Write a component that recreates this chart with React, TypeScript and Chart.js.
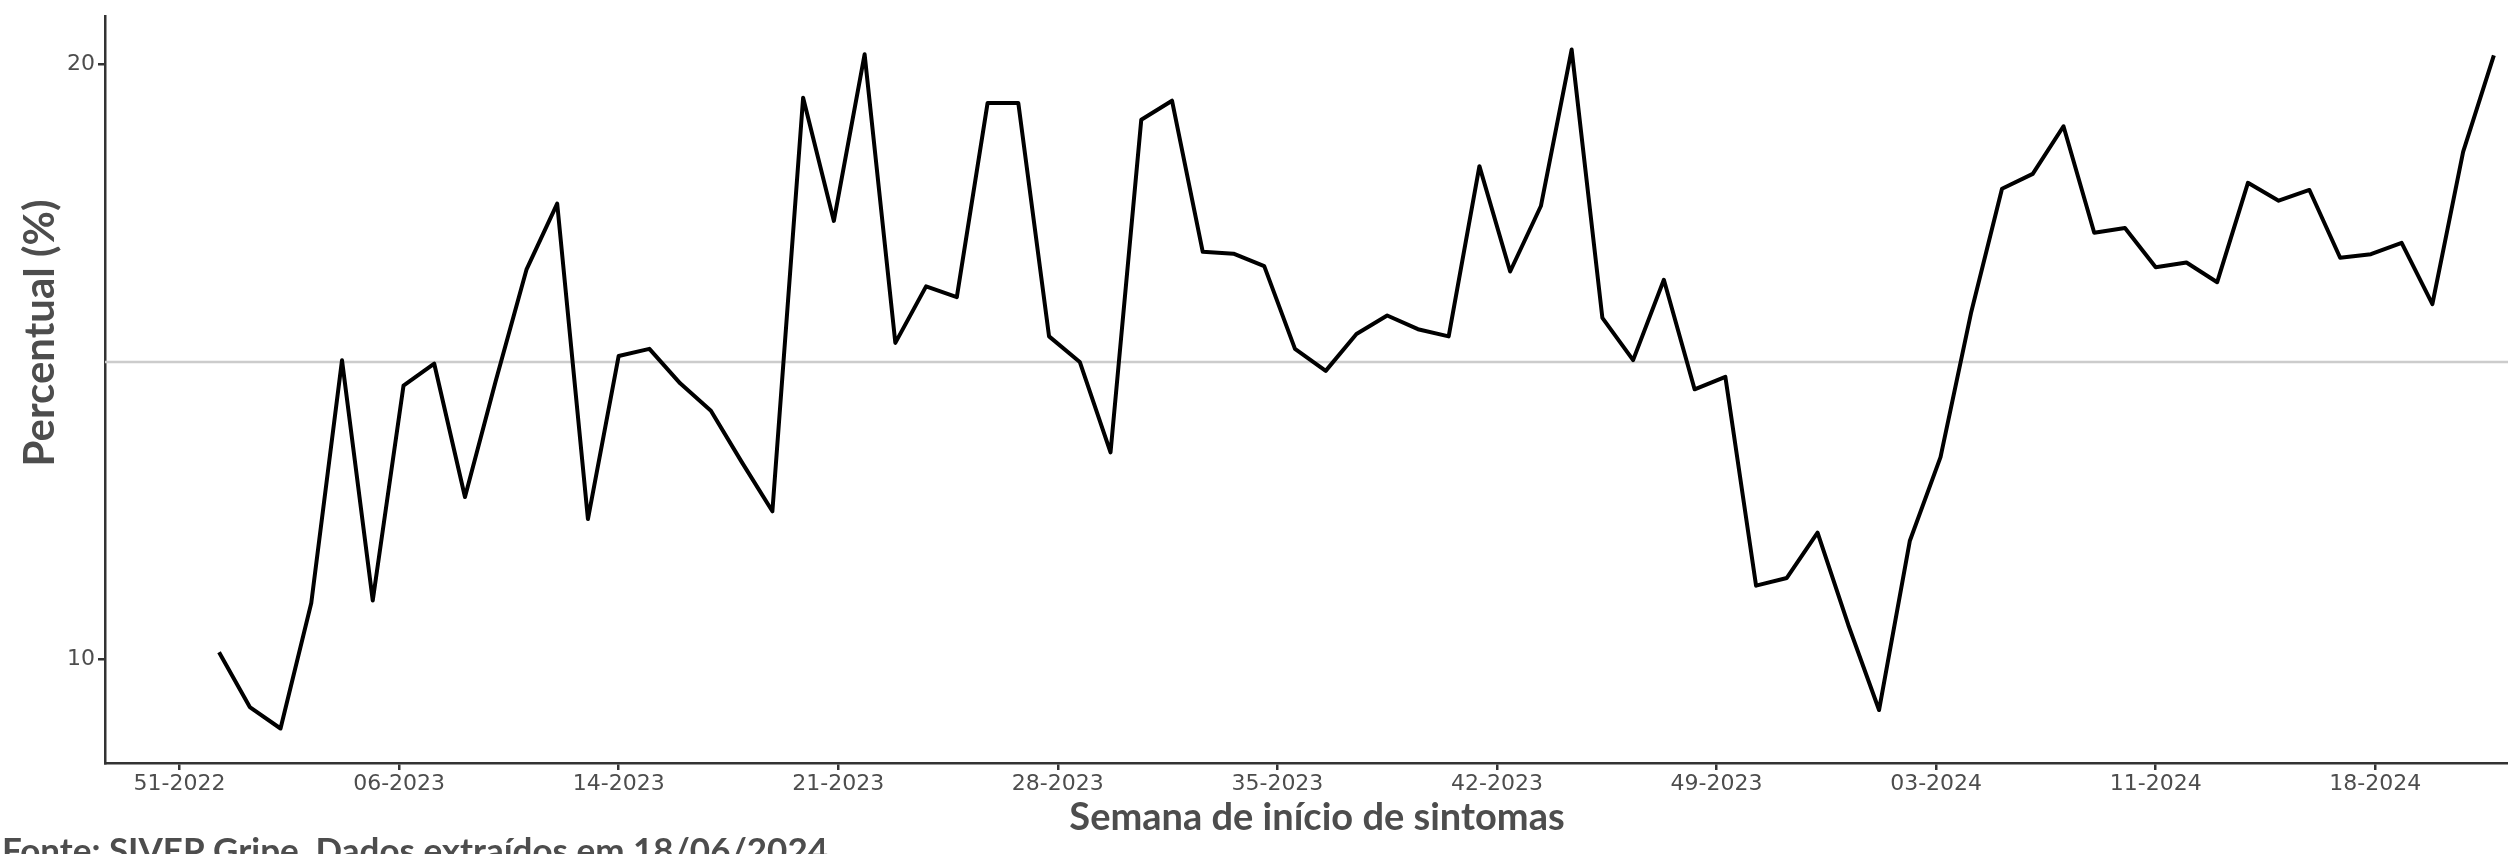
import { useEffect, useRef } from 'react'
import { Chart, registerables } from 'chart.js'

Chart.register(...registerables)

// % per epidemiological week, first point = week after 51-2022
const percentual = [
  10.12, 9.2, 8.84, 10.95, 15.03, 10.99, 14.6, 14.97, 12.73, 14.68,
  16.55, 17.66, 12.36, 15.1, 15.22, 14.64, 14.18, 13.32, 12.49, 19.44,
  17.37, 20.17, 15.32, 16.27, 16.09, 19.35, 19.35, 15.43, 15.0, 13.48,
  19.07, 19.39, 16.85, 16.82, 16.61, 15.22, 14.85, 15.47, 15.78, 15.55,
  15.43, 18.29, 16.52, 17.62, 20.25, 15.74, 15.03, 16.38, 14.54, 14.75,
  11.24, 11.37, 12.13, 10.58, 9.15, 11.99, 13.4, 15.84, 17.91, 18.16,
  18.96, 17.17, 17.25, 16.59, 16.67, 16.34, 18.01, 17.71, 17.89, 16.75,
  16.81, 17.0, 15.97, 18.53, 20.15,
]

// x tick labels and their offset in days from the first data point
const tickLabels = [
  '51-2022', '06-2023', '14-2023', '21-2023', '28-2023', '35-2023',
  '42-2023', '49-2023', '03-2024', '11-2024', '18-2024',
]
const tickDays = [-9, 41, 91, 141, 191, 241, 291, 341, 391, 441, 491]

const yTicks = [10, 20]
const referenceLevel = 15

const X_MIN = -3.71
const X_MAX = 74.46
const Y_MIN = 8.26
const Y_MAX = 20.81

const textColor = '#4d4d4d'
const axisColor = '#333333'

// axis titles and source note (the plot was cropped, so titles are off-centre)
const textPlugin = {
  id: 'textLayer',
  afterDraw(chart: Chart) {
    const { ctx } = chart
    ctx.save()
    ctx.fillStyle = textColor

    ctx.font = 'bold 38px Lato'
    ctx.textAlign = 'center'
    ctx.textBaseline = 'middle'
    ctx.fillText('Semana de início de sintomas', 1317, 818)

    ctx.save()
    ctx.translate(40, 333)
    ctx.rotate(-Math.PI / 2)
    ctx.font = 'bold 42px Lato'
    ctx.fillText('Percentual (%)', 0, 0)
    ctx.restore()

    ctx.font = 'bold 35px Lato'
    ctx.textAlign = 'left'
    ctx.textBaseline = 'alphabetic'
    ctx.fillText('Fonte: SIVEP Gripe. Dados extraídos em 18/06/2024', 2, 863)
    ctx.restore()
  },
}

export default function App() {
  const canvasRef = useRef<HTMLCanvasElement>(null)
  const chartRef = useRef<Chart | null>(null)

  useEffect(() => {
    document.body.style.margin = '0'
    if (!canvasRef.current) return
    chartRef.current?.destroy()

    const tickPos = tickDays.map((d) => d / 7)

    chartRef.current = new Chart(canvasRef.current, {
      type: 'line',
      data: {
        datasets: [
          {
            label: 'Percentual',
            data: percentual.map((v, i) => ({ x: i, y: v })),
            borderColor: '#000000',
            borderWidth: 4,
            pointRadius: 0,
            tension: 0,
            borderJoinStyle: 'round',
            borderCapStyle: 'butt',
          },
          {
            label: 'ref',
            data: [
              { x: X_MIN, y: referenceLevel },
              { x: X_MAX, y: referenceLevel },
            ],
            borderColor: '#cccccc',
            borderWidth: 2.5,
            pointRadius: 0,
          },
        ],
      },
      options: {
        animation: false,
        responsive: true,
        maintainAspectRatio: false,
        devicePixelRatio: 1,
        layout: { padding: { top: 11, right: 0, left: 0, bottom: 0 } },
        plugins: {
          legend: { display: false },
          tooltip: { enabled: false },
        },
        scales: {
          x: {
            type: 'linear',
            min: X_MIN,
            max: X_MAX,
            afterBuildTicks: (axis) => {
              axis.ticks = tickPos.map((v) => ({ value: v }))
            },
            afterFit: (axis) => {
              axis.height = 91
            },
            ticks: {
              color: textColor,
              font: { family: 'DejaVu Sans', size: 22 },
              padding: 1,
              maxRotation: 0,
              autoSkip: false,
              callback: (_v, i) => tickLabels[i],
            },
            grid: {
              drawOnChartArea: false,
              drawTicks: true,
              tickLength: 7,
              color: axisColor,
              lineWidth: 2.5,
            },
            border: { display: true, color: axisColor, width: 2.5 },
          },
          y: {
            type: 'linear',
            min: Y_MIN,
            max: Y_MAX,
            afterBuildTicks: (axis) => {
              axis.ticks = yTicks.map((v) => ({ value: v }))
            },
            afterFit: (axis) => {
              axis.width = 105
            },
            ticks: {
              color: textColor,
              font: { family: 'DejaVu Sans', size: 22 },
              padding: 3,
            },
            grid: {
              drawOnChartArea: false,
              drawTicks: true,
              tickLength: 7,
              color: axisColor,
              lineWidth: 2.5,
            },
            border: { display: true, color: axisColor, width: 2.5 },
          },
        },
      },
      plugins: [textPlugin],
    })

    return () => {
      chartRef.current?.destroy()
      chartRef.current = null
    }
  }, [])

  return (
    <div style={{ width: 2508, height: 854, position: 'relative', background: '#ffffff' }}>
      <canvas ref={canvasRef} />
    </div>
  )
}
